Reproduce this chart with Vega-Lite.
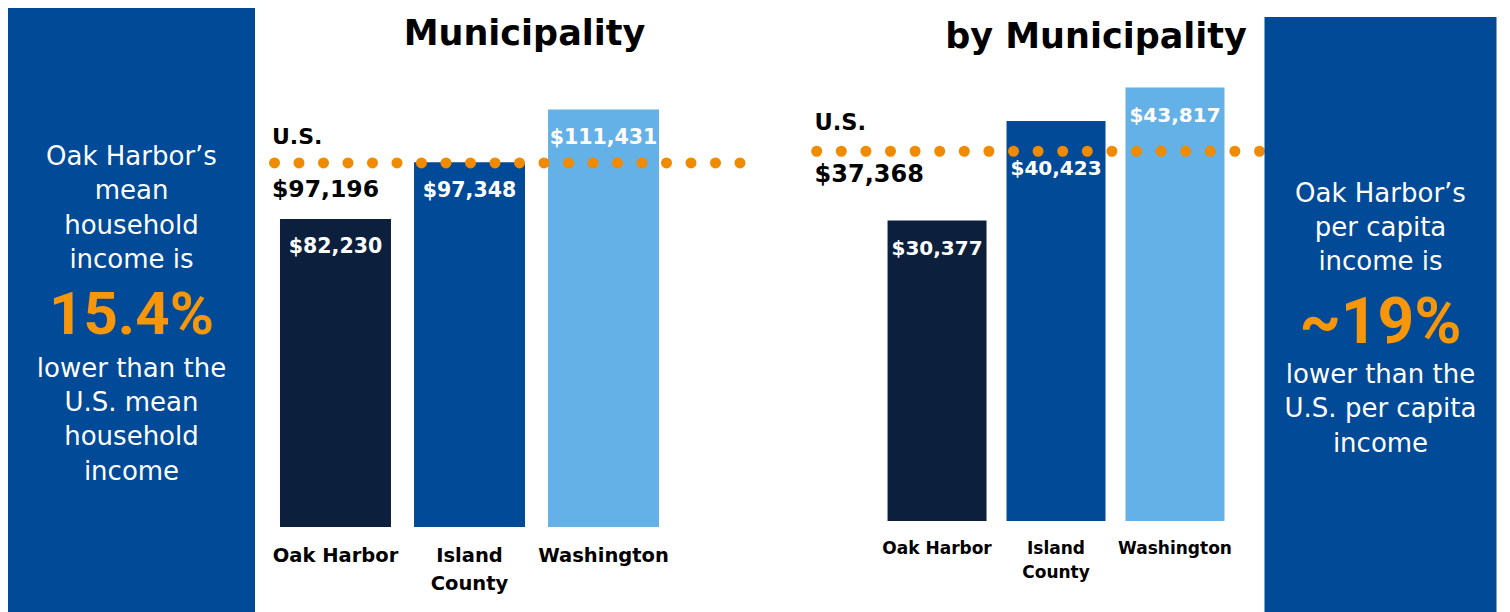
{
  "$schema": "https://vega.github.io/schema/vega-lite/v6.json",
  "padding": {"left": 8, "top": 6, "right": 0, "bottom": 0},
  "background": "white",
  "config": {
    "view": {"stroke": null},
    "font": "DejaVu Sans",
    "text": {"font": "DejaVu Sans"}
  },
  "datasets": {
    "mean": [
      {"place": "Oak Harbor", "income": 82230},
      {"place": "Island County", "income": 97348},
      {"place": "Washington", "income": 111431}
    ],
    "percap": [
      {"place": "Oak Harbor", "income": 30377},
      {"place": "Island County", "income": 40423},
      {"place": "Washington", "income": 43817}
    ],
    "us": [
      {"measure": "mean", "label": "U.S.", "value": 97196},
      {"measure": "percap", "label": "U.S.", "value": 37368}
    ],
    "titles": [
      {"measure": "mean", "title": "Municipality"},
      {"measure": "percap", "title": "by Municipality"}
    ],
    "panelL": [
      {"part": "top", "text": ["Oak Harbor’s", "mean", "household", "income is"]},
      {"part": "pct", "text": "15.4%"},
      {"part": "bottom", "text": ["lower than the", "U.S. mean", "household", "income"]}
    ],
    "panelR": [
      {"part": "top", "text": ["Oak Harbor’s", "per capita", "income is"]},
      {"part": "pct", "text": "~19%"},
      {"part": "bottom", "text": ["lower than the", "U.S. per capita", "income"]}
    ]
  },
  "spacing": 62.5,
  "hconcat": [
    {
      "bounds": "flush",
      "spacing": 17,
      "hconcat": [
        {
          "width": 247,
          "height": 606,
          "view": {"fill": "#004A98", "stroke": null},
          "data": {"name": "panelL"},
          "layer": [
            {
              "transform": [{"filter": "datum.part == 'top'"}],
              "mark": {"type": "text", "fontSize": 26, "lineHeight": 34.4, "fill": "white", "baseline": "middle", "align": "center", "font": "DejaVu Sans", "dy": -154},
              "encoding": {"text": {"field": "text", "type": "nominal"}}
            },
            {
              "transform": [{"filter": "datum.part == 'pct'"}],
              "mark": {"type": "text", "fontSize": 60, "font": "Roboto", "fontWeight": "bold", "fill": "#F7960A", "baseline": "middle", "align": "center", "dy": 5},
              "encoding": {"text": {"field": "text", "type": "nominal"}}
            },
            {
              "transform": [{"filter": "datum.part == 'bottom'"}],
              "mark": {"type": "text", "fontSize": 26, "lineHeight": 34.4, "fill": "white", "baseline": "middle", "align": "center", "font": "DejaVu Sans", "dy": 57.7},
              "encoding": {"text": {"field": "text", "type": "nominal"}}
            }
          ]
        },
        {
          "width": 468,
          "height": 519,
          "layer": [
            {
              "data": {"name": "mean"},
              "mark": {"type": "bar"},
              "encoding": {
                "x": {"field": "place", "type": "nominal", "sort": ["Oak Harbor", "Island County", "Washington"],
                      "scale": {"paddingInner": 0.172, "paddingOuter": 0.332, "align": 0.09},
                      "axis": {"title": null, "domain": false, "ticks": false, "labelAngle": 0, "labelFontSize": 19.5, "labelFontWeight": "bold", "labelFont": "DejaVu Sans", "labelColor": "black", "labelPadding": 19, "labelLineHeight": 28, "labelOverlap": false, "labelLimit": 300, "labelBaseline": "top",
                               "labelExpr": "datum.label == 'Island County' ? ['Island', 'County'] : datum.label"}},
                "y": {"field": "income", "type": "quantitative", "axis": null, "scale": {"domain": [0, 138550], "nice": false}},
                "color": {"field": "place", "type": "nominal", "legend": null,
                          "scale": {"domain": ["Oak Harbor", "Island County", "Washington"], "range": ["#0C203E", "#004A98", "#64B1E8"]}}
              }
            },
            {
              "data": {"name": "us"},
              "transform": [{"filter": "datum.measure == 'mean'"}],
              "mark": {"type": "rule", "stroke": "#F08A00", "strokeWidth": 11, "strokeCap": "round", "strokeDash": [0, 24.5]},
              "encoding": {"y": {"field": "value", "type": "quantitative"}}
            },
            {
              "data": {"name": "mean"},
              "mark": {"type": "text", "fill": "white", "fontSize": 20.5, "fontWeight": "bold", "baseline": "alphabetic", "align": "center", "dy": 34.5},
              "encoding": {
                "x": {"field": "place", "type": "nominal", "sort": ["Oak Harbor", "Island County", "Washington"]},
                "y": {"field": "income", "type": "quantitative"},
                "text": {"field": "income", "type": "quantitative", "format": "$,.0f"}
              }
            },
            {
              "data": {"name": "us"},
              "transform": [{"filter": "datum.measure == 'mean'"}],
              "mark": {"type": "text", "fill": "black", "fontSize": 22, "fontWeight": "bold", "baseline": "alphabetic", "align": "left", "dx": -8, "dy": -19.3},
              "encoding": {
                "x": {"datum": "Oak Harbor", "bandPosition": 0},
                "y": {"field": "value", "type": "quantitative"},
                "text": {"field": "label", "type": "nominal"}
              }
            },
            {
              "data": {"name": "us"},
              "transform": [{"filter": "datum.measure == 'mean'"}],
              "mark": {"type": "text", "fill": "black", "fontSize": 23.5, "fontWeight": "bold", "baseline": "alphabetic", "align": "left", "dx": -8, "dy": 34},
              "encoding": {
                "x": {"datum": "Oak Harbor", "bandPosition": 0},
                "y": {"field": "value", "type": "quantitative"},
                "text": {"field": "value", "type": "quantitative", "format": "$,.0f"}
              }
            },
            {
              "data": {"name": "titles"},
              "transform": [{"filter": "datum.measure == 'mean'"}],
              "mark": {"type": "text", "fill": "black", "fontSize": 35, "fontWeight": "bold", "baseline": "alphabetic", "align": "center", "dx": 18.5, "dy": -222.5},
              "encoding": {"text": {"field": "title", "type": "nominal"}}
            }
          ]
        }
      ]
    },
    {
      "bounds": "flush",
      "spacing": 5,
      "hconcat": [
        {
          "width": 445,
          "height": 513,
          "layer": [
            {
              "data": {"name": "percap"},
              "mark": {"type": "bar"},
              "encoding": {
                "x": {"field": "place", "type": "nominal", "sort": ["Oak Harbor", "Island County", "Washington"],
                      "scale": {"paddingInner": 0.168, "paddingOuter": 0.454, "align": 0.676},
                      "axis": {"title": null, "domain": false, "ticks": false, "labelAngle": 0, "labelFontSize": 17, "labelFontWeight": "bold", "labelFont": "DejaVu Sans", "labelColor": "black", "labelPadding": 19, "labelLineHeight": 24.5, "labelOverlap": false, "labelLimit": 300, "labelBaseline": "top",
                               "labelExpr": "datum.label == 'Island County' ? ['Island', 'County'] : datum.label"}},
                "y": {"field": "income", "type": "quantitative", "axis": null, "scale": {"domain": [0, 51845], "nice": false}},
                "color": {"field": "place", "type": "nominal", "legend": null,
                          "scale": {"domain": ["Oak Harbor", "Island County", "Washington"], "range": ["#0C203E", "#004A98", "#64B1E8"]}}
              }
            },
            {
              "data": {"name": "us"},
              "transform": [{"filter": "datum.measure == 'percap'"}],
              "mark": {"type": "rule", "stroke": "#F08A00", "strokeWidth": 11, "strokeCap": "round", "strokeDash": [0, 24.6]},
              "encoding": {"y": {"field": "value", "type": "quantitative"}}
            },
            {
              "data": {"name": "percap"},
              "transform": [{"filter": "datum.place != 'Island County'"}],
              "mark": {"type": "text", "fill": "white", "fontSize": 20, "fontWeight": "bold", "baseline": "alphabetic", "align": "center", "dy": 35},
              "encoding": {
                "x": {"field": "place", "type": "nominal", "sort": ["Oak Harbor", "Island County", "Washington"]},
                "y": {"field": "income", "type": "quantitative"},
                "text": {"field": "income", "type": "quantitative", "format": "$,.0f"}
              }
            },
            {
              "data": {"name": "percap"},
              "transform": [{"filter": "datum.place == 'Island County'"}],
              "mark": {"type": "text", "fill": "white", "fontSize": 20, "fontWeight": "bold", "baseline": "alphabetic", "align": "center", "dy": 54},
              "encoding": {
                "x": {"field": "place", "type": "nominal", "sort": ["Oak Harbor", "Island County", "Washington"]},
                "y": {"field": "income", "type": "quantitative"},
                "text": {"field": "income", "type": "quantitative", "format": "$,.0f"}
              }
            },
            {
              "data": {"name": "us"},
              "transform": [{"filter": "datum.measure == 'percap'"}],
              "mark": {"type": "text", "fill": "black", "fontSize": 22.5, "fontWeight": "bold", "baseline": "alphabetic", "align": "left", "dx": -73, "dy": -20.8},
              "encoding": {
                "x": {"datum": "Oak Harbor", "bandPosition": 0},
                "y": {"field": "value", "type": "quantitative"},
                "text": {"field": "label", "type": "nominal"}
              }
            },
            {
              "data": {"name": "us"},
              "transform": [{"filter": "datum.measure == 'percap'"}],
              "mark": {"type": "text", "fill": "black", "fontSize": 24, "fontWeight": "bold", "baseline": "alphabetic", "align": "left", "dx": -73, "dy": 31},
              "encoding": {
                "x": {"datum": "Oak Harbor", "bandPosition": 0},
                "y": {"field": "value", "type": "quantitative"},
                "text": {"field": "value", "type": "quantitative", "format": "$,.0f"}
              }
            },
            {
              "data": {"name": "titles"},
              "transform": [{"filter": "datum.measure == 'percap'"}],
              "mark": {"type": "text", "fill": "black", "fontSize": 35, "fontWeight": "bold", "baseline": "alphabetic", "align": "center", "dx": 59, "dy": -216.2},
              "encoding": {"text": {"field": "title", "type": "nominal"}}
            }
          ]
        },
        {
          "bounds": "flush",
          "spacing": 0,
          "vconcat": [
            {
              "width": 232,
              "height": 9,
              "data": {"values": [{"part": "spacer"}]},
              "mark": {"type": "text", "text": ""},
              "encoding": {}
            },
            {
              "width": 232,
              "height": 597,
              "view": {"fill": "#004A98", "stroke": null},
              "data": {"name": "panelR"},
              "layer": [
                {
                  "transform": [{"filter": "datum.part == 'top'"}],
                  "mark": {"type": "text", "fontSize": 26, "lineHeight": 34.2, "fill": "white", "baseline": "middle", "align": "center", "font": "DejaVu Sans", "dy": -121.8},
                  "encoding": {"text": {"field": "text", "type": "nominal"}}
                },
                {
                  "transform": [{"filter": "datum.part == 'pct'"}],
                  "mark": {"type": "text", "fontSize": 64, "font": "Roboto", "fontWeight": "bold", "fill": "#F7960A", "baseline": "middle", "align": "center", "dy": 8.5},
                  "encoding": {"text": {"field": "text", "type": "nominal"}}
                },
                {
                  "transform": [{"filter": "datum.part == 'bottom'"}],
                  "mark": {"type": "text", "fontSize": 26, "lineHeight": 34.2, "fill": "white", "baseline": "middle", "align": "center", "font": "DejaVu Sans", "dy": 59.8},
                  "encoding": {"text": {"field": "text", "type": "nominal"}}
                }
              ]
            }
          ]
        }
      ]
    }
  ]
}
